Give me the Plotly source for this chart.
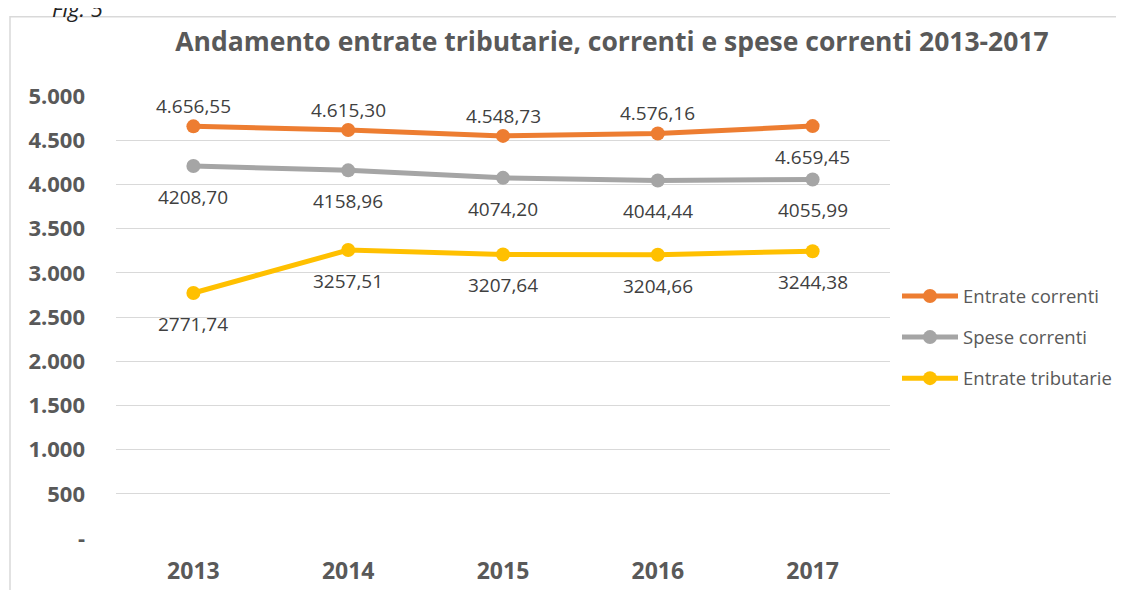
import plotly.graph_objects as go

anni = ["2013", "2014", "2015", "2016", "2017"]
entrate_correnti = [4656.55, 4615.30, 4548.73, 4576.16, 4659.45]
spese_correnti = [4208.70, 4158.96, 4074.20, 4044.44, 4055.99]
entrate_tributarie = [2771.74, 3257.51, 3207.64, 3204.66, 3244.38]

etichette_entrate = ["4.656,55", "4.615,30", "4.548,73", "4.576,16", "4.659,45"]
etichette_spese = ["4208,70", "4158,96", "4074,20", "4044,44", "4055,99"]
etichette_tributarie = ["2771,74", "3257,51", "3207,64", "3204,66", "3244,38"]
# 1 = label above the point, -1 = below
lato_entrate = [1, 1, 1, 1, -1]

y_ticks = [0, 500, 1000, 1500, 2000, 2500, 3000, 3500, 4000, 4500, 5000]
y_ticktext = ["-", "500", "1.000", "1.500", "2.000", "2.500", "3.000",
              "3.500", "4.000", "4.500", "5.000"]

FONT = "Open Sans"
W, H = 1124, 590
# plot area in figure pixels (the page adds an 8px body margin)
L, R, T, B = 108, 882, 88, 540


def px(x):
    return (x - L) / (R - L)


def py(y):
    return (B - y) / (B - T)


serie = [
    ("Entrate correnti", entrate_correnti, etichette_entrate, lato_entrate, "#ED7D31"),
    ("Spese correnti", spese_correnti, etichette_spese, [-1] * 5, "#A5A5A5"),
    ("Entrate tributarie", entrate_tributarie, etichette_tributarie, [-1] * 5, "#FFC000"),
]

fig = go.Figure()
annotations = []
for nome, valori, etichette, lati, colore in serie:
    fig.add_trace(go.Scatter(
        x=anni, y=valori, name=nome, mode="lines+markers",
        line=dict(color=colore, width=5),
        marker=dict(color=colore, size=14),
        legendgroup=nome,
    ))
    for i, (v, t, s) in enumerate(zip(valori, etichette, lati)):
        annotations.append(dict(
            x=i, y=v, text=t, showarrow=False,
            yshift=20 if s > 0 else -31,
            font=dict(family=FONT, size=19, color="#404040"),
        ))

# "Fig. 5" caption, cut by the top edge as in the page
annotations.append(dict(
    xref="paper", yref="paper", x=px(42), y=py(15),
    xanchor="left", yanchor="bottom", text="<i>Fig. 5</i>", showarrow=False,
    font=dict(family=FONT, size=22, color="#222222"),
))

fig.update_layout(
    width=W, height=H,
    margin=dict(l=L, r=W - R, t=T, b=H - B),
    paper_bgcolor="white", plot_bgcolor="white",
    font=dict(family=FONT, color="#595959"),
    title=dict(
        text="<b>Andamento entrate tributarie, correnti e spese correnti 2013-2017</b>",
        x=604 / W, xanchor="center", xref="container",
        y=1 - 34 / H, yanchor="middle", yref="container",
        font=dict(family=FONT, size=26.5, color="#595959"),
    ),
    legend=dict(
        x=px(889), xanchor="left", y=py(335), yanchor="middle",
        font=dict(family=FONT, size=18.5, color="#595959"),
        tracegroupgap=14, itemwidth=56,
    ),
    annotations=annotations,
    shapes=[dict(
        type="rect", xref="paper", yref="paper",
        x0=px(2), x1=px(1113), y0=py(600), y1=py(7),
        line=dict(color="#D9D9D9", width=1.5), layer="below",
    )],
)
fig.update_xaxes(
    type="category", range=[-0.5, 4.5], showgrid=False, showline=False,
    zeroline=False, ticks="", ticklabelstandoff=17,
    tickfont=dict(family=FONT, size=23, color="#595959", weight="bold"),
)
fig.update_yaxes(
    range=[0, 5000], tickvals=y_ticks, ticktext=y_ticktext,
    showgrid=True, gridcolor="#D9D9D9", gridwidth=1.3, zeroline=False,
    showline=False, ticks="", ticklabelstandoff=30,
    tickfont=dict(family=FONT, size=22, color="#595959", weight="bold"),
)

fig.write_html("out.html")
